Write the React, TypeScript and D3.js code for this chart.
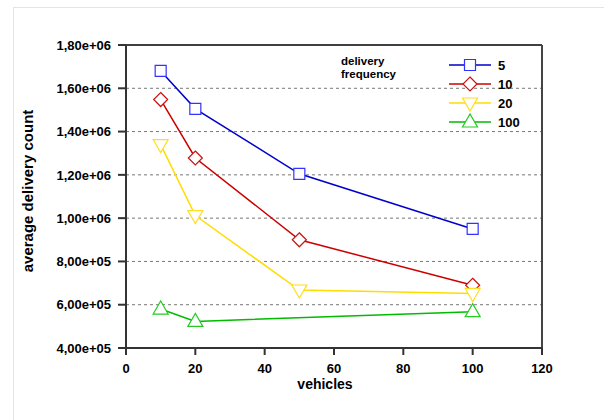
import { useMemo } from 'react'
import * as d3 from 'd3'

// data
const vehicles = [10, 20, 50, 100]
const freq5 = [1680000, 1505000, 1205000, 950000]
const freq10 = [1548000, 1278000, 900000, 690000]
const freq20 = [1340000, 1012000, 668000, 652000]
const freq100: (number | null)[] = [580000, 523000, null, 568000]

const seriesNames = ['5', '10', '20', '100']
const seriesColors = ['#0000cc', '#cc0000', '#ffdd00', '#00bb00']
const markerColors = ['#3333ff', '#cc1111', '#ffdd22', '#22cc22']
const markerTypes = ['square', 'diamond', 'triDown', 'triUp']

const xTicks = [0, 20, 40, 60, 80, 100, 120]
const yTicks = [400000, 600000, 800000, 1000000, 1200000, 1400000, 1600000, 1800000]

const font = "'Liberation Sans', Arial, sans-serif"

function fmtY(v) {
  const s = v.toExponential(2).replace('.', ',')
  return s.replace(/e\+(\d)$/, 'e+0$1')
}

function markerPath(type, x, y) {
  if (type === 'square') return `M${x - 5.5},${y - 5.5}h11v11h-11z`
  if (type === 'diamond') return `M${x},${y - 7}L${x + 7},${y}L${x},${y + 7}L${x - 7},${y}z`
  if (type === 'triDown') return `M${x - 7.5},${y - 5}L${x + 7.5},${y - 5}L${x},${y + 8}z`
  return `M${x - 7.5},${y + 5}L${x + 7.5},${y + 5}L${x},${y - 8}z`
}

export default function App() {
  const width = 604
  const height = 420
  const plot = { x0: 126, x1: 542, y0: 45, y1: 348 }

  const x = d3.scaleLinear().domain([0, 120]).range([plot.x0, plot.x1])
  const y = d3.scaleLinear().domain([400000, 1800000]).range([plot.y1, plot.y0])

  const series = useMemo(() => [freq5, freq10, freq20, freq100].map((vals, i) => ({
    name: seriesNames[i],
    color: seriesColors[i],
    mcolor: markerColors[i],
    marker: markerTypes[i],
    points: vehicles.map((v, j) => ({ x: v, y: vals[j] })).filter(p => p.y != null) as any[]
  })), [])

  const line = d3.line<any>().x(d => x(d.x)).y(d => y(d.y))

  return (
    <svg width={width} height={height} style={{ position: 'absolute', left: 0, top: 0, background: '#fff' }}>
      <rect x={13.5} y={7.5} width={620} height={430} fill="white" stroke="#e4e4e4" strokeWidth={1} />

      {/* gridlines */}
      {yTicks.slice(1, -1).map(t => (
        <line key={'g' + t} x1={plot.x0} x2={plot.x1} y1={y(t)} y2={y(t)}
          stroke="#777" strokeWidth={1} strokeDasharray="3,3" />
      ))}

      {/* frame */}
      <line x1={plot.x0} x2={plot.x1} y1={plot.y0} y2={plot.y0} stroke="#000" strokeWidth={1.5} />
      <line x1={plot.x1} x2={plot.x1} y1={plot.y0} y2={plot.y1} stroke="#444" strokeWidth={2} />
      <line x1={plot.x0} x2={plot.x0} y1={plot.y0} y2={plot.y1} stroke="#333" strokeWidth={2} />
      <line x1={plot.x0} x2={plot.x1} y1={plot.y1} y2={plot.y1} stroke="#333" strokeWidth={2} />

      {/* y axis */}
      {yTicks.map(t => (
        <g key={'y' + t}>
          <line x1={plot.x0 - 8} x2={plot.x0} y1={y(t)} y2={y(t)} stroke="#333" strokeWidth={2} />
          <text x={plot.x0 - 15} y={y(t)} dy="0.36em" textAnchor="end" fontFamily={font}
            fontWeight="bold" fontSize={13}>{fmtY(t)}</text>
        </g>
      ))}

      {/* x axis */}
      {xTicks.map(t => (
        <g key={'x' + t}>
          <line x1={x(t)} x2={x(t)} y1={plot.y1} y2={plot.y1 + 7} stroke="#333" strokeWidth={2} />
          <text x={x(t)} y={368} dy="0.36em" textAnchor="middle" fontFamily={font}
            fontWeight="bold" fontSize={13}>{t}</text>
        </g>
      ))}

      <text x={325} y={384} dy="0.36em" textAnchor="middle" fontFamily={font}
        fontWeight="bold" fontSize={14}>vehicles</text>
      <text transform={`translate(28,191) rotate(-90)`} dy="0.36em"
        textAnchor="middle" fontFamily={font} fontWeight="bold" fontSize={15}>average delivery count</text>

      {/* series */}
      {series.map(s => (
        <g key={s.name}>
          <path d={line(s.points) as string} fill="none" stroke={s.color} strokeWidth={1.5} />
          {s.points.map((p, j) => (
            <path key={j} d={markerPath(s.marker, x(p.x), y(p.y))} fill="white" stroke={s.mcolor} strokeWidth={1.2} />
          ))}
        </g>
      ))}

      {/* legend */}
      <text x={341} y={61} dy="0.36em" fontFamily={font} fontWeight="bold" fontSize={11.5}>delivery</text>
      <text x={341} y={74} dy="0.36em" fontFamily={font} fontWeight="bold" fontSize={11.5}>frequency</text>
      {series.map((s, i) => {
        const ly = 65 + i * 19
        return (
          <g key={'l' + s.name}>
            <line x1={449} x2={491} y1={ly} y2={ly} stroke={s.color} strokeWidth={1.5} />
            <path d={markerPath(s.marker, 470, ly)} fill="white" stroke={s.mcolor} strokeWidth={1.2} />
            <text x={498} y={ly} dy="0.36em" fontFamily={font} fontWeight="bold" fontSize={13}>{s.name}</text>
          </g>
        )
      })}
    </svg>
  )
}
